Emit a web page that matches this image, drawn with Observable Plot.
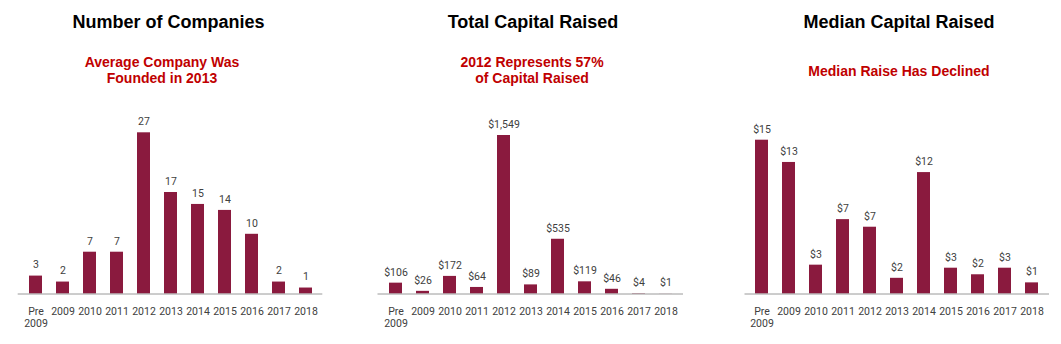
<!DOCTYPE html>
<html><head><meta charset="utf-8">
<script src="https://cdn.jsdelivr.net/npm/d3@7"></script>
<script src="https://cdn.jsdelivr.net/npm/@observablehq/plot@0.6"></script>
<style>
body{margin:0;background:#fff;}
#wrap{position:relative;width:1061px;height:344px;overflow:hidden;background:#fff;}
.t{position:absolute;width:400px;text-align:center;font-family:"Liberation Sans",Arial,sans-serif;font-weight:bold;white-space:nowrap;}
.title{font-size:18px;line-height:18px;color:#000;top:13px;}
.sub{font-size:14px;line-height:16.6px;color:#C00000;}
.p{position:absolute;top:100px;}
</style></head><body><div id="wrap"></div>
<script>
// Data
const years = ["Pre\n2009","2009","2010","2011","2012","2013","2014","2015","2016","2017","2018"];
const companies = [3,2,7,7,27,17,15,14,10,2,1];
const capitalRaised = [106,26,172,64,1549,89,535,119,46,4,1];
const medianRaised = [15.2,13.0,2.85,7.35,6.6,1.55,12.0,2.55,1.9,2.55,1.1];
const titles = ["Number of Companies","Total Capital Raised","Median Capital Raised"];
const subtitles = [["Average Company Was","Founded in 2013"],["2012 Represents 57%","of Capital Raised"],["Median Raise Has Declined"]];

const series = [companies, capitalRaised, medianRaised];
const formats = [d3.format("d"), d3.format("$,"), d3.format("$.0f")];

// Layout
const panels = [
  {left:0,   width:353, ml:17.7, mr:30.7, mt:32.3, tc:168.5, sc:162, st:53.5},
  {left:353, width:354, ml:24.5, mr:24,   mt:35,   tc:533,   sc:532, st:53.5},
  {left:707, width:354, ml:37.5, mr:12,   mt:39.7, tc:899,   sc:899, st:63}
];

const wrap = document.getElementById("wrap");
panels.forEach((p, i) => {
  const data = years.map((y, j) => ({year: y, value: series[i][j]}));
  const chart = Plot.plot({
    width: p.width, height: 244,
    marginLeft: p.ml, marginRight: p.mr, marginTop: p.mt, marginBottom: 50.5,
    x: {domain: years, paddingInner: 0.52, paddingOuter: 0.26, axis: null, label: null},
    y: {domain: [0, d3.max(series[i])], axis: null, label: null},
    style: {fontFamily: "Roboto, sans-serif", fontSize: "10.5px", color: "#404040", background: "#fff"},
    marks: [
      Plot.barY(data, {x: "year", y: "value", fill: "#8A1A3E"}),
      Plot.ruleY([0], {stroke: "#9a9a9a", strokeWidth: 1}),
      Plot.text(data, {x: "year", y: "value", text: d => formats[i](d.value), dy: -11, fill: "#404040"}),
      Plot.axisX({tickSize: 0, tickPadding: 12, lineHeight: 1.18, label: null})
    ]
  });
  chart.classList.add("p");
  chart.style.left = p.left + "px";
  wrap.appendChild(chart);

  const t = document.createElement("div");
  t.className = "t title";
  t.style.left = (p.tc - 200) + "px";
  t.textContent = titles[i];
  wrap.appendChild(t);

  const s = document.createElement("div");
  s.className = "t sub";
  s.style.left = (p.sc - 200) + "px";
  s.style.top = p.st + "px";
  s.innerHTML = subtitles[i].join("<br>");
  wrap.appendChild(s);
});
</script></body></html>
